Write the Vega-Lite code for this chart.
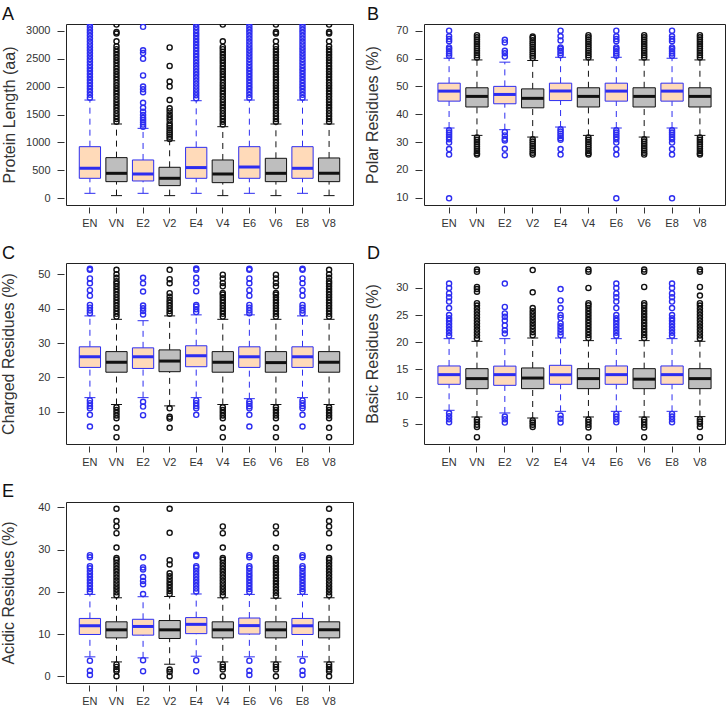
{
"$schema": "https://vega.github.io/schema/vega-lite/v6.json",
"padding": {"left": 0, "top": 5, "right": 0, "bottom": 0},
"background": "white",
"columns": 2,
"align": "each",
"bounds": "flush",
"spacing": {"row": 58, "column": 71},
"config": {
 "font": "Liberation Sans",
 "view": {"stroke": "#222", "strokeWidth": 1},
 "title": {"anchor": "start", "frame": "group", "fontSize": 18, "fontWeight": "normal", "color": "#111", "offset": 0.5},
 "axisY": {"domain": false, "grid": false, "tickSize": 7, "offset": 2, "labelPadding": 7, "labelOverlap": false, "labelFontSize": 11, "labelColor": "#333", "tickColor": "#333", "titleFontSize": 16, "titleFontWeight": "normal", "titleColor": "#333"},
 "axisX": {"domain": false, "grid": false, "tickSize": 6, "offset": 2, "labelPadding": 4, "labelOverlap": false, "labelAngle": 0, "labelFontSize": 11, "labelColor": "#333", "tickColor": "#333"}
},
"datasets": {
"bA": [
{"g":"EN","lo":89,"q1":358,"md":537,"q3":924,"hi":1759},
{"g":"VN","lo":48,"q1":298,"md":447,"q3":728,"hi":1330},
{"g":"E2","lo":89,"q1":310,"md":435,"q3":686,"hi":1252},
{"g":"V2","lo":48,"q1":227,"md":358,"q3":555,"hi":1030},
{"g":"E4","lo":89,"q1":358,"md":550,"q3":912,"hi":1747},
{"g":"V4","lo":48,"q1":280,"md":435,"q3":686,"hi":1282},
{"g":"E6","lo":89,"q1":358,"md":560,"q3":924,"hi":1759},
{"g":"V6","lo":48,"q1":298,"md":447,"q3":716,"hi":1330},
{"g":"E8","lo":89,"q1":358,"md":537,"q3":924,"hi":1759},
{"g":"V8","lo":48,"q1":298,"md":447,"q3":722,"hi":1330}
],
"bB": [
{"g":"EN","lo":35.05,"q1":44.7,"md":48.3,"q3":51.15,"hi":60.1},
{"g":"VN","lo":32.4,"q1":42.6,"md":46.4,"q3":49.5,"hi":59.5},
{"g":"E2","lo":34.45,"q1":43.75,"md":47.1,"q3":50.0,"hi":58.7},
{"g":"V2","lo":31.8,"q1":42.3,"md":45.7,"q3":49.1,"hi":59.3},
{"g":"E4","lo":35.4,"q1":44.9,"md":48.3,"q3":51.15,"hi":60.45},
{"g":"V4","lo":32.4,"q1":42.6,"md":46.4,"q3":49.5,"hi":59.5},
{"g":"E6","lo":35.05,"q1":44.7,"md":48.3,"q3":51.15,"hi":60.45},
{"g":"V6","lo":31.8,"q1":42.6,"md":46.4,"q3":49.5,"hi":59.5},
{"g":"E8","lo":35.05,"q1":44.7,"md":48.3,"q3":51.15,"hi":60.1},
{"g":"V8","lo":32.4,"q1":42.6,"md":46.4,"q3":49.5,"hi":59.5}
],
"bC": [
{"g":"EN","lo":14.1,"q1":22.9,"md":26.0,"q3":28.9,"hi":37.9},
{"g":"VN","lo":12.1,"q1":21.5,"md":24.4,"q3":27.5,"hi":36.9},
{"g":"E2","lo":14.1,"q1":22.6,"md":26.0,"q3":28.6,"hi":36.5},
{"g":"V2","lo":11.7,"q1":21.65,"md":24.75,"q3":28.0,"hi":37.9},
{"g":"E4","lo":14.1,"q1":23.1,"md":26.3,"q3":29.2,"hi":38.2},
{"g":"V4","lo":12.1,"q1":21.5,"md":24.4,"q3":27.5,"hi":36.9},
{"g":"E6","lo":13.8,"q1":22.9,"md":26.0,"q3":28.9,"hi":38.2},
{"g":"V6","lo":12.1,"q1":21.5,"md":24.3,"q3":27.5,"hi":36.9},
{"g":"E8","lo":14.1,"q1":22.9,"md":26.0,"q3":28.9,"hi":37.9},
{"g":"V8","lo":12.1,"q1":21.5,"md":24.4,"q3":27.5,"hi":36.9}
],
"bD": [
{"g":"EN","lo":7.46,"q1":12.25,"md":14.03,"q3":15.63,"hi":20.66},
{"g":"VN","lo":6.23,"q1":11.45,"md":13.3,"q3":15.13,"hi":20.17},
{"g":"E2","lo":6.97,"q1":12.06,"md":14.03,"q3":15.6,"hi":20.66},
{"g":"V2","lo":6.04,"q1":11.45,"md":13.4,"q3":15.26,"hi":20.78},
{"g":"E4","lo":7.27,"q1":12.25,"md":14.03,"q3":15.75,"hi":20.78},
{"g":"V4","lo":6.23,"q1":11.45,"md":13.3,"q3":15.13,"hi":20.3},
{"g":"E6","lo":7.27,"q1":12.25,"md":14.03,"q3":15.63,"hi":20.66},
{"g":"V6","lo":6.23,"q1":11.45,"md":13.2,"q3":15.13,"hi":20.3},
{"g":"E8","lo":7.27,"q1":12.25,"md":14.03,"q3":15.63,"hi":20.66},
{"g":"V8","lo":6.3,"q1":11.45,"md":13.3,"q3":15.13,"hi":20.17}
],
"bE": [
{"g":"EN","lo":4.6,"q1":9.9,"md":11.96,"q3":13.7,"hi":19.4},
{"g":"VN","lo":3.4,"q1":9.1,"md":11.0,"q3":12.9,"hi":18.6},
{"g":"E2","lo":4.36,"q1":9.74,"md":11.8,"q3":13.5,"hi":18.85},
{"g":"V2","lo":2.85,"q1":8.95,"md":11.0,"q3":13.2,"hi":18.9},
{"g":"E4","lo":4.75,"q1":10.1,"md":12.3,"q3":13.9,"hi":19.5},
{"g":"V4","lo":3.4,"q1":9.1,"md":11.0,"q3":12.9,"hi":18.6},
{"g":"E6","lo":4.6,"q1":10.0,"md":12.0,"q3":13.8,"hi":19.4},
{"g":"V6","lo":3.4,"q1":9.1,"md":11.0,"q3":12.9,"hi":18.5},
{"g":"E8","lo":4.6,"q1":9.9,"md":11.96,"q3":13.7,"hi":19.4},
{"g":"V8","lo":3.4,"q1":9.1,"md":11.0,"q3":12.9,"hi":18.6}
],
"oA": [
{"g":"EN","v":1800},{"g":"EN","v":1853},{"g":"EN","v":1906},{"g":"EN","v":1959},{"g":"EN","v":2012},{"g":"EN","v":2065},{"g":"EN","v":2118},{"g":"EN","v":2171},{"g":"EN","v":2224},{"g":"EN","v":2277},{"g":"EN","v":2330},{"g":"EN","v":2383},{"g":"EN","v":2436},{"g":"EN","v":2489},{"g":"EN","v":2542},{"g":"EN","v":2595},{"g":"EN","v":2648},{"g":"EN","v":2701},{"g":"EN","v":2754},{"g":"EN","v":2807},{"g":"EN","v":2860},{"g":"EN","v":2913},{"g":"EN","v":2966},{"g":"EN","v":3019},{"g":"EN","v":3072},{"g":"EN","v":3125},
{"g":"E4","v":1790},{"g":"E4","v":1843},{"g":"E4","v":1896},{"g":"E4","v":1949},{"g":"E4","v":2002},{"g":"E4","v":2055},{"g":"E4","v":2108},{"g":"E4","v":2161},{"g":"E4","v":2214},{"g":"E4","v":2267},{"g":"E4","v":2320},{"g":"E4","v":2373},{"g":"E4","v":2426},{"g":"E4","v":2479},{"g":"E4","v":2532},{"g":"E4","v":2585},{"g":"E4","v":2638},{"g":"E4","v":2691},{"g":"E4","v":2744},{"g":"E4","v":2797},{"g":"E4","v":2850},{"g":"E4","v":2903},{"g":"E4","v":2956},{"g":"E4","v":3009},{"g":"E4","v":3062},{"g":"E4","v":3115},
{"g":"E6","v":1800},{"g":"E6","v":1853},{"g":"E6","v":1906},{"g":"E6","v":1959},{"g":"E6","v":2012},{"g":"E6","v":2065},{"g":"E6","v":2118},{"g":"E6","v":2171},{"g":"E6","v":2224},{"g":"E6","v":2277},{"g":"E6","v":2330},{"g":"E6","v":2383},{"g":"E6","v":2436},{"g":"E6","v":2489},{"g":"E6","v":2542},{"g":"E6","v":2595},{"g":"E6","v":2648},{"g":"E6","v":2701},{"g":"E6","v":2754},{"g":"E6","v":2807},{"g":"E6","v":2860},{"g":"E6","v":2913},{"g":"E6","v":2966},{"g":"E6","v":3019},{"g":"E6","v":3072},{"g":"E6","v":3125},
{"g":"E8","v":1800},{"g":"E8","v":1853},{"g":"E8","v":1906},{"g":"E8","v":1959},{"g":"E8","v":2012},{"g":"E8","v":2065},{"g":"E8","v":2118},{"g":"E8","v":2171},{"g":"E8","v":2224},{"g":"E8","v":2277},{"g":"E8","v":2330},{"g":"E8","v":2383},{"g":"E8","v":2436},{"g":"E8","v":2489},{"g":"E8","v":2542},{"g":"E8","v":2595},{"g":"E8","v":2648},{"g":"E8","v":2701},{"g":"E8","v":2754},{"g":"E8","v":2807},{"g":"E8","v":2860},{"g":"E8","v":2913},{"g":"E8","v":2966},{"g":"E8","v":3019},{"g":"E8","v":3072},{"g":"E8","v":3125},
{"g":"VN","v":1370},{"g":"VN","v":1420},{"g":"VN","v":1470},{"g":"VN","v":1520},{"g":"VN","v":1570},{"g":"VN","v":1620},{"g":"VN","v":1670},{"g":"VN","v":1720},{"g":"VN","v":1770},{"g":"VN","v":1820},{"g":"VN","v":1870},{"g":"VN","v":1920},{"g":"VN","v":1970},{"g":"VN","v":2020},{"g":"VN","v":2070},{"g":"VN","v":2120},{"g":"VN","v":2170},{"g":"VN","v":2220},{"g":"VN","v":2270},{"g":"VN","v":2320},{"g":"VN","v":2370},{"g":"VN","v":2420},{"g":"VN","v":2470},{"g":"VN","v":2520},{"g":"VN","v":2570},{"g":"VN","v":2620},{"g":"VN","v":2670},{"g":"VN","v":2720},{"g":"VN","v":2810},{"g":"VN","v":2950},{"g":"VN","v":2975},{"g":"VN","v":3110},
{"g":"V6","v":1370},{"g":"V6","v":1420},{"g":"V6","v":1470},{"g":"V6","v":1520},{"g":"V6","v":1570},{"g":"V6","v":1620},{"g":"V6","v":1670},{"g":"V6","v":1720},{"g":"V6","v":1770},{"g":"V6","v":1820},{"g":"V6","v":1870},{"g":"V6","v":1920},{"g":"V6","v":1970},{"g":"V6","v":2020},{"g":"V6","v":2070},{"g":"V6","v":2120},{"g":"V6","v":2170},{"g":"V6","v":2220},{"g":"V6","v":2270},{"g":"V6","v":2320},{"g":"V6","v":2370},{"g":"V6","v":2420},{"g":"V6","v":2470},{"g":"V6","v":2520},{"g":"V6","v":2570},{"g":"V6","v":2620},{"g":"V6","v":2670},{"g":"V6","v":2720},{"g":"V6","v":2810},{"g":"V6","v":2950},{"g":"V6","v":2975},{"g":"V6","v":3110},
{"g":"V8","v":1370},{"g":"V8","v":1420},{"g":"V8","v":1470},{"g":"V8","v":1520},{"g":"V8","v":1570},{"g":"V8","v":1620},{"g":"V8","v":1670},{"g":"V8","v":1720},{"g":"V8","v":1770},{"g":"V8","v":1820},{"g":"V8","v":1870},{"g":"V8","v":1920},{"g":"V8","v":1970},{"g":"V8","v":2020},{"g":"V8","v":2070},{"g":"V8","v":2120},{"g":"V8","v":2170},{"g":"V8","v":2220},{"g":"V8","v":2270},{"g":"V8","v":2320},{"g":"V8","v":2370},{"g":"V8","v":2420},{"g":"V8","v":2470},{"g":"V8","v":2520},{"g":"V8","v":2570},{"g":"V8","v":2620},{"g":"V8","v":2670},{"g":"V8","v":2720},{"g":"V8","v":2810},{"g":"V8","v":2950},{"g":"V8","v":2975},{"g":"V8","v":3110},
{"g":"V4","v":1320},{"g":"V4","v":1370},{"g":"V4","v":1420},{"g":"V4","v":1470},{"g":"V4","v":1520},{"g":"V4","v":1570},{"g":"V4","v":1620},{"g":"V4","v":1670},{"g":"V4","v":1720},{"g":"V4","v":1770},{"g":"V4","v":1820},{"g":"V4","v":1870},{"g":"V4","v":1920},{"g":"V4","v":1970},{"g":"V4","v":2020},{"g":"V4","v":2070},{"g":"V4","v":2120},{"g":"V4","v":2170},{"g":"V4","v":2220},{"g":"V4","v":2270},{"g":"V4","v":2320},{"g":"V4","v":2370},{"g":"V4","v":2420},{"g":"V4","v":2470},{"g":"V4","v":2520},{"g":"V4","v":2570},{"g":"V4","v":2620},{"g":"V4","v":2670},{"g":"V4","v":2710},{"g":"V4","v":2810},{"g":"V4","v":3110},
{"g":"E2","v":1280},{"g":"E2","v":1320},{"g":"E2","v":1360},{"g":"E2","v":1400},{"g":"E2","v":1440},{"g":"E2","v":1490},{"g":"E2","v":1550},{"g":"E2","v":1620},{"g":"E2","v":1710},{"g":"E2","v":1900},{"g":"E2","v":1950},{"g":"E2","v":2000},{"g":"E2","v":2200},{"g":"E2","v":2500},{"g":"E2","v":2600},{"g":"E2","v":2650},{"g":"E2","v":3070},
{"g":"V2","v":1060},{"g":"V2","v":1100},{"g":"V2","v":1140},{"g":"V2","v":1180},{"g":"V2","v":1220},{"g":"V2","v":1260},{"g":"V2","v":1300},{"g":"V2","v":1340},{"g":"V2","v":1400},{"g":"V2","v":1450},{"g":"V2","v":1500},{"g":"V2","v":1560},{"g":"V2","v":1610},{"g":"V2","v":1760},{"g":"V2","v":2000},{"g":"V2","v":2090},{"g":"V2","v":2370},{"g":"V2","v":2700}
],
"oB": [
{"g":"EN","v":61.0},{"g":"EN","v":61.8},{"g":"EN","v":62.6},{"g":"EN","v":63.4},{"g":"EN","v":64.0},{"g":"EN","v":66.2},{"g":"EN","v":67.0},{"g":"EN","v":68.0},{"g":"EN","v":70.0},{"g":"EN","v":34.2},{"g":"EN","v":33.4},{"g":"EN","v":32.6},{"g":"EN","v":31.8},{"g":"EN","v":31.0},{"g":"EN","v":29.8},{"g":"EN","v":27.5},{"g":"EN","v":25.5},{"g":"EN","v":9.8},
{"g":"E6","v":61.0},{"g":"E6","v":61.8},{"g":"E6","v":62.6},{"g":"E6","v":63.4},{"g":"E6","v":64.0},{"g":"E6","v":66.2},{"g":"E6","v":67.0},{"g":"E6","v":68.0},{"g":"E6","v":70.0},{"g":"E6","v":34.2},{"g":"E6","v":33.4},{"g":"E6","v":32.6},{"g":"E6","v":31.8},{"g":"E6","v":31.0},{"g":"E6","v":29.8},{"g":"E6","v":27.5},{"g":"E6","v":25.5},{"g":"E6","v":9.8},
{"g":"E8","v":61.0},{"g":"E8","v":61.8},{"g":"E8","v":62.6},{"g":"E8","v":63.4},{"g":"E8","v":64.0},{"g":"E8","v":66.2},{"g":"E8","v":67.0},{"g":"E8","v":68.0},{"g":"E8","v":70.0},{"g":"E8","v":34.2},{"g":"E8","v":33.4},{"g":"E8","v":32.6},{"g":"E8","v":31.8},{"g":"E8","v":31.0},{"g":"E8","v":29.8},{"g":"E8","v":27.5},{"g":"E8","v":25.5},{"g":"E8","v":9.8},
{"g":"E4","v":61.2},{"g":"E4","v":62.0},{"g":"E4","v":62.8},{"g":"E4","v":63.6},{"g":"E4","v":64.0},{"g":"E4","v":66.5},{"g":"E4","v":68.0},{"g":"E4","v":70.0},{"g":"E4","v":34.6},{"g":"E4","v":33.8},{"g":"E4","v":33.0},{"g":"E4","v":32.2},{"g":"E4","v":31.4},{"g":"E4","v":30.8},{"g":"E4","v":27.5},{"g":"E4","v":25.5},
{"g":"VN","v":60.4},{"g":"VN","v":61.2},{"g":"VN","v":62.0},{"g":"VN","v":62.8},{"g":"VN","v":63.6},{"g":"VN","v":64.4},{"g":"VN","v":65.2},{"g":"VN","v":66.0},{"g":"VN","v":66.8},{"g":"VN","v":67.6},{"g":"VN","v":68.4},{"g":"VN","v":31.6},{"g":"VN","v":30.8},{"g":"VN","v":30.0},{"g":"VN","v":29.2},{"g":"VN","v":28.4},{"g":"VN","v":27.6},{"g":"VN","v":26.8},{"g":"VN","v":26.0},{"g":"VN","v":25.5},
{"g":"V4","v":60.4},{"g":"V4","v":61.2},{"g":"V4","v":62.0},{"g":"V4","v":62.8},{"g":"V4","v":63.6},{"g":"V4","v":64.4},{"g":"V4","v":65.2},{"g":"V4","v":66.0},{"g":"V4","v":66.8},{"g":"V4","v":67.6},{"g":"V4","v":68.4},{"g":"V4","v":31.6},{"g":"V4","v":30.8},{"g":"V4","v":30.0},{"g":"V4","v":29.2},{"g":"V4","v":28.4},{"g":"V4","v":27.6},{"g":"V4","v":26.8},{"g":"V4","v":26.0},{"g":"V4","v":25.5},
{"g":"V6","v":60.4},{"g":"V6","v":61.2},{"g":"V6","v":62.0},{"g":"V6","v":62.8},{"g":"V6","v":63.6},{"g":"V6","v":64.4},{"g":"V6","v":65.2},{"g":"V6","v":66.0},{"g":"V6","v":66.8},{"g":"V6","v":67.6},{"g":"V6","v":68.4},{"g":"V6","v":31.0},{"g":"V6","v":30.2},{"g":"V6","v":29.4},{"g":"V6","v":28.6},{"g":"V6","v":27.8},{"g":"V6","v":27.0},{"g":"V6","v":26.2},{"g":"V6","v":25.5},
{"g":"V8","v":60.4},{"g":"V8","v":61.2},{"g":"V8","v":62.0},{"g":"V8","v":62.8},{"g":"V8","v":63.6},{"g":"V8","v":64.4},{"g":"V8","v":65.2},{"g":"V8","v":66.0},{"g":"V8","v":66.8},{"g":"V8","v":67.6},{"g":"V8","v":68.4},{"g":"V8","v":31.6},{"g":"V8","v":30.8},{"g":"V8","v":30.0},{"g":"V8","v":29.2},{"g":"V8","v":28.4},{"g":"V8","v":27.6},{"g":"V8","v":26.8},{"g":"V8","v":26.0},{"g":"V8","v":25.5},
{"g":"E2","v":60.7},{"g":"E2","v":61.9},{"g":"E2","v":62.8},{"g":"E2","v":65.8},{"g":"E2","v":66.7},{"g":"E2","v":33.6},{"g":"E2","v":32.4},{"g":"E2","v":31.2},{"g":"E2","v":30.6},{"g":"E2","v":27.6},{"g":"E2","v":25.3},
{"g":"V2","v":60.2},{"g":"V2","v":61.0},{"g":"V2","v":61.8},{"g":"V2","v":62.6},{"g":"V2","v":63.4},{"g":"V2","v":64.2},{"g":"V2","v":65.0},{"g":"V2","v":65.8},{"g":"V2","v":66.6},{"g":"V2","v":67.4},{"g":"V2","v":67.9},{"g":"V2","v":31.0},{"g":"V2","v":30.2},{"g":"V2","v":29.4},{"g":"V2","v":28.6},{"g":"V2","v":27.8},{"g":"V2","v":27.0},{"g":"V2","v":26.2},{"g":"V2","v":25.5}
],
"oC": [
{"g":"EN","v":38.7},{"g":"EN","v":39.5},{"g":"EN","v":40.3},{"g":"EN","v":41.1},{"g":"EN","v":43.8},{"g":"EN","v":45.4},{"g":"EN","v":47.4},{"g":"EN","v":48.8},{"g":"EN","v":51.3},{"g":"EN","v":51.6},{"g":"EN","v":13.3},{"g":"EN","v":12.5},{"g":"EN","v":11.7},{"g":"EN","v":11.0},{"g":"EN","v":9.1},{"g":"EN","v":5.7},
{"g":"E6","v":38.7},{"g":"E6","v":39.5},{"g":"E6","v":40.3},{"g":"E6","v":41.1},{"g":"E6","v":43.8},{"g":"E6","v":45.4},{"g":"E6","v":47.4},{"g":"E6","v":48.8},{"g":"E6","v":51.3},{"g":"E6","v":51.6},{"g":"E6","v":13.0},{"g":"E6","v":12.3},{"g":"E6","v":11.6},{"g":"E6","v":11.0},{"g":"E6","v":9.1},{"g":"E6","v":5.7},
{"g":"E8","v":38.7},{"g":"E8","v":39.5},{"g":"E8","v":40.3},{"g":"E8","v":41.1},{"g":"E8","v":43.8},{"g":"E8","v":45.4},{"g":"E8","v":47.4},{"g":"E8","v":48.8},{"g":"E8","v":51.3},{"g":"E8","v":51.6},{"g":"E8","v":13.3},{"g":"E8","v":12.5},{"g":"E8","v":11.7},{"g":"E8","v":11.0},{"g":"E8","v":9.1},{"g":"E8","v":5.7},
{"g":"E4","v":39.0},{"g":"E4","v":39.8},{"g":"E4","v":40.6},{"g":"E4","v":41.1},{"g":"E4","v":45.1},{"g":"E4","v":47.4},{"g":"E4","v":49.0},{"g":"E4","v":51.3},{"g":"E4","v":51.7},{"g":"E4","v":13.3},{"g":"E4","v":12.5},{"g":"E4","v":11.7},{"g":"E4","v":11.0},{"g":"E4","v":9.1},
{"g":"VN","v":37.7},{"g":"VN","v":38.5},{"g":"VN","v":39.3},{"g":"VN","v":40.1},{"g":"VN","v":40.9},{"g":"VN","v":41.7},{"g":"VN","v":42.5},{"g":"VN","v":43.3},{"g":"VN","v":44.1},{"g":"VN","v":44.9},{"g":"VN","v":45.7},{"g":"VN","v":46.5},{"g":"VN","v":47.3},{"g":"VN","v":48.0},{"g":"VN","v":49.0},{"g":"VN","v":50.0},{"g":"VN","v":51.3},{"g":"VN","v":11.3},{"g":"VN","v":10.5},{"g":"VN","v":9.7},{"g":"VN","v":8.9},{"g":"VN","v":8.1},{"g":"VN","v":5.3},{"g":"VN","v":2.6},
{"g":"V8","v":37.7},{"g":"V8","v":38.5},{"g":"V8","v":39.3},{"g":"V8","v":40.1},{"g":"V8","v":40.9},{"g":"V8","v":41.7},{"g":"V8","v":42.5},{"g":"V8","v":43.3},{"g":"V8","v":44.1},{"g":"V8","v":44.9},{"g":"V8","v":45.7},{"g":"V8","v":46.5},{"g":"V8","v":47.3},{"g":"V8","v":48.0},{"g":"V8","v":49.0},{"g":"V8","v":50.0},{"g":"V8","v":51.3},{"g":"V8","v":11.3},{"g":"V8","v":10.5},{"g":"V8","v":9.7},{"g":"V8","v":8.9},{"g":"V8","v":8.1},{"g":"V8","v":5.3},{"g":"V8","v":2.6},
{"g":"V4","v":37.7},{"g":"V4","v":38.5},{"g":"V4","v":39.3},{"g":"V4","v":40.1},{"g":"V4","v":40.9},{"g":"V4","v":41.7},{"g":"V4","v":42.5},{"g":"V4","v":43.3},{"g":"V4","v":44.1},{"g":"V4","v":44.6},{"g":"V4","v":46.5},{"g":"V4","v":47.5},{"g":"V4","v":48.8},{"g":"V4","v":49.9},{"g":"V4","v":11.3},{"g":"V4","v":10.5},{"g":"V4","v":9.7},{"g":"V4","v":8.9},{"g":"V4","v":8.1},{"g":"V4","v":5.3},{"g":"V4","v":2.6},
{"g":"V6","v":37.7},{"g":"V6","v":38.5},{"g":"V6","v":39.3},{"g":"V6","v":40.1},{"g":"V6","v":40.9},{"g":"V6","v":41.7},{"g":"V6","v":42.5},{"g":"V6","v":43.3},{"g":"V6","v":44.1},{"g":"V6","v":44.6},{"g":"V6","v":46.5},{"g":"V6","v":47.5},{"g":"V6","v":48.8},{"g":"V6","v":49.9},{"g":"V6","v":11.3},{"g":"V6","v":10.5},{"g":"V6","v":9.7},{"g":"V6","v":8.9},{"g":"V6","v":8.1},{"g":"V6","v":5.3},{"g":"V6","v":2.6},
{"g":"E2","v":38.3},{"g":"E2","v":39.3},{"g":"E2","v":40.1},{"g":"E2","v":40.9},{"g":"E2","v":45.0},{"g":"E2","v":47.4},{"g":"E2","v":49.0},{"g":"E2","v":12.9},{"g":"E2","v":11.5},{"g":"E2","v":9.0},
{"g":"V2","v":38.5},{"g":"V2","v":39.3},{"g":"V2","v":40.1},{"g":"V2","v":40.9},{"g":"V2","v":41.7},{"g":"V2","v":42.5},{"g":"V2","v":43.5},{"g":"V2","v":44.5},{"g":"V2","v":47.4},{"g":"V2","v":48.6},{"g":"V2","v":51.3},{"g":"V2","v":11.0},{"g":"V2","v":8.5},{"g":"V2","v":8.0},{"g":"V2","v":5.3}
],
"oD": [
{"g":"EN","v":21.2},{"g":"EN","v":21.75},{"g":"EN","v":22.3},{"g":"EN","v":22.85},{"g":"EN","v":23.4},{"g":"EN","v":23.95},{"g":"EN","v":24.4},{"g":"EN","v":25.0},{"g":"EN","v":26.3},{"g":"EN","v":27.5},{"g":"EN","v":28.3},{"g":"EN","v":29.0},{"g":"EN","v":30.0},{"g":"EN","v":30.8},{"g":"EN","v":6.9},{"g":"EN","v":6.35},{"g":"EN","v":5.8},{"g":"EN","v":5.25},
{"g":"E6","v":21.2},{"g":"E6","v":21.75},{"g":"E6","v":22.3},{"g":"E6","v":22.85},{"g":"E6","v":23.4},{"g":"E6","v":23.95},{"g":"E6","v":24.4},{"g":"E6","v":25.0},{"g":"E6","v":26.3},{"g":"E6","v":27.5},{"g":"E6","v":28.3},{"g":"E6","v":29.0},{"g":"E6","v":30.0},{"g":"E6","v":30.8},{"g":"E6","v":6.8},{"g":"E6","v":6.3},{"g":"E6","v":5.8},{"g":"E6","v":5.25},
{"g":"E8","v":21.2},{"g":"E8","v":21.75},{"g":"E8","v":22.3},{"g":"E8","v":22.85},{"g":"E8","v":23.4},{"g":"E8","v":23.95},{"g":"E8","v":24.4},{"g":"E8","v":25.0},{"g":"E8","v":26.3},{"g":"E8","v":27.5},{"g":"E8","v":28.3},{"g":"E8","v":29.0},{"g":"E8","v":30.0},{"g":"E8","v":30.8},{"g":"E8","v":6.8},{"g":"E8","v":6.3},{"g":"E8","v":5.8},{"g":"E8","v":5.25},
{"g":"E4","v":21.3},{"g":"E4","v":21.85},{"g":"E4","v":22.4},{"g":"E4","v":22.95},{"g":"E4","v":23.5},{"g":"E4","v":24.5},{"g":"E4","v":25.0},{"g":"E4","v":26.3},{"g":"E4","v":27.7},{"g":"E4","v":29.8},{"g":"E4","v":6.5},{"g":"E4","v":5.9},{"g":"E4","v":5.2},
{"g":"VN","v":20.7},{"g":"VN","v":21.25},{"g":"VN","v":21.8},{"g":"VN","v":22.35},{"g":"VN","v":22.9},{"g":"VN","v":23.45},{"g":"VN","v":24.0},{"g":"VN","v":24.55},{"g":"VN","v":25.1},{"g":"VN","v":25.65},{"g":"VN","v":26.2},{"g":"VN","v":26.75},{"g":"VN","v":27.2},{"g":"VN","v":29.3},{"g":"VN","v":29.8},{"g":"VN","v":30.2},{"g":"VN","v":33.0},{"g":"VN","v":33.4},{"g":"VN","v":5.75},{"g":"VN","v":5.3},{"g":"VN","v":4.8},{"g":"VN","v":4.4},{"g":"VN","v":2.5},
{"g":"V4","v":20.8},{"g":"V4","v":21.35},{"g":"V4","v":21.9},{"g":"V4","v":22.45},{"g":"V4","v":23.0},{"g":"V4","v":23.55},{"g":"V4","v":24.1},{"g":"V4","v":24.65},{"g":"V4","v":25.2},{"g":"V4","v":25.75},{"g":"V4","v":26.3},{"g":"V4","v":26.8},{"g":"V4","v":27.2},{"g":"V4","v":30.0},{"g":"V4","v":33.0},{"g":"V4","v":33.4},{"g":"V4","v":5.75},{"g":"V4","v":5.3},{"g":"V4","v":4.8},{"g":"V4","v":4.3},{"g":"V4","v":2.5},
{"g":"V6","v":20.8},{"g":"V6","v":21.35},{"g":"V6","v":21.9},{"g":"V6","v":22.45},{"g":"V6","v":23.0},{"g":"V6","v":23.55},{"g":"V6","v":24.1},{"g":"V6","v":24.65},{"g":"V6","v":25.2},{"g":"V6","v":25.75},{"g":"V6","v":26.3},{"g":"V6","v":26.8},{"g":"V6","v":27.2},{"g":"V6","v":30.2},{"g":"V6","v":33.0},{"g":"V6","v":33.4},{"g":"V6","v":5.75},{"g":"V6","v":5.3},{"g":"V6","v":4.8},{"g":"V6","v":4.3},{"g":"V6","v":2.5},
{"g":"V8","v":20.7},{"g":"V8","v":21.25},{"g":"V8","v":21.8},{"g":"V8","v":22.35},{"g":"V8","v":22.9},{"g":"V8","v":23.45},{"g":"V8","v":24.0},{"g":"V8","v":24.55},{"g":"V8","v":25.1},{"g":"V8","v":25.65},{"g":"V8","v":26.2},{"g":"V8","v":26.75},{"g":"V8","v":27.2},{"g":"V8","v":28.6},{"g":"V8","v":30.2},{"g":"V8","v":33.0},{"g":"V8","v":33.4},{"g":"V8","v":5.8},{"g":"V8","v":5.4},{"g":"V8","v":5.0},{"g":"V8","v":4.4},{"g":"V8","v":2.5},
{"g":"E2","v":21.6},{"g":"E2","v":22.2},{"g":"E2","v":23.1},{"g":"E2","v":24.0},{"g":"E2","v":24.7},{"g":"E2","v":25.3},{"g":"E2","v":26.5},{"g":"E2","v":30.8},{"g":"E2","v":6.3},{"g":"E2","v":5.8},{"g":"E2","v":5.2},
{"g":"V2","v":21.3},{"g":"V2","v":21.85},{"g":"V2","v":22.4},{"g":"V2","v":22.95},{"g":"V2","v":23.5},{"g":"V2","v":24.05},{"g":"V2","v":24.6},{"g":"V2","v":25.15},{"g":"V2","v":25.7},{"g":"V2","v":26.3},{"g":"V2","v":29.2},{"g":"V2","v":33.3},{"g":"V2","v":5.6},{"g":"V2","v":5.2},{"g":"V2","v":4.8},{"g":"V2","v":4.4}
],
"oE": [
{"g":"EN","v":20.0},{"g":"EN","v":20.7},{"g":"EN","v":21.4},{"g":"EN","v":22.1},{"g":"EN","v":22.8},{"g":"EN","v":23.5},{"g":"EN","v":24.2},{"g":"EN","v":24.9},{"g":"EN","v":25.6},{"g":"EN","v":26.1},{"g":"EN","v":28.2},{"g":"EN","v":28.7},{"g":"EN","v":3.7},{"g":"EN","v":1.3},{"g":"EN","v":0.3},
{"g":"E6","v":20.0},{"g":"E6","v":20.7},{"g":"E6","v":21.4},{"g":"E6","v":22.1},{"g":"E6","v":22.8},{"g":"E6","v":23.5},{"g":"E6","v":24.2},{"g":"E6","v":24.9},{"g":"E6","v":25.6},{"g":"E6","v":26.1},{"g":"E6","v":28.2},{"g":"E6","v":28.7},{"g":"E6","v":3.7},{"g":"E6","v":1.3},{"g":"E6","v":0.3},
{"g":"E8","v":20.0},{"g":"E8","v":20.7},{"g":"E8","v":21.4},{"g":"E8","v":22.1},{"g":"E8","v":22.8},{"g":"E8","v":23.5},{"g":"E8","v":24.2},{"g":"E8","v":24.9},{"g":"E8","v":25.6},{"g":"E8","v":26.1},{"g":"E8","v":28.2},{"g":"E8","v":28.7},{"g":"E8","v":3.7},{"g":"E8","v":1.3},{"g":"E8","v":0.3},
{"g":"E4","v":20.1},{"g":"E4","v":20.8},{"g":"E4","v":21.5},{"g":"E4","v":22.2},{"g":"E4","v":22.9},{"g":"E4","v":23.6},{"g":"E4","v":24.3},{"g":"E4","v":25.0},{"g":"E4","v":25.7},{"g":"E4","v":26.1},{"g":"E4","v":28.5},{"g":"E4","v":28.8},{"g":"E4","v":3.8},{"g":"E4","v":1.2},
{"g":"VN","v":19.2},{"g":"VN","v":19.9},{"g":"VN","v":20.6},{"g":"VN","v":21.3},{"g":"VN","v":22.0},{"g":"VN","v":22.7},{"g":"VN","v":23.4},{"g":"VN","v":24.1},{"g":"VN","v":24.8},{"g":"VN","v":25.5},{"g":"VN","v":26.2},{"g":"VN","v":26.9},{"g":"VN","v":27.6},{"g":"VN","v":28.0},{"g":"VN","v":30.5},{"g":"VN","v":33.9},{"g":"VN","v":35.5},{"g":"VN","v":36.8},{"g":"VN","v":39.7},{"g":"VN","v":2.8},{"g":"VN","v":2.2},{"g":"VN","v":1.6},{"g":"VN","v":1.2},{"g":"VN","v":0.0},
{"g":"V8","v":19.2},{"g":"V8","v":19.9},{"g":"V8","v":20.6},{"g":"V8","v":21.3},{"g":"V8","v":22.0},{"g":"V8","v":22.7},{"g":"V8","v":23.4},{"g":"V8","v":24.1},{"g":"V8","v":24.8},{"g":"V8","v":25.5},{"g":"V8","v":26.2},{"g":"V8","v":26.9},{"g":"V8","v":27.6},{"g":"V8","v":28.0},{"g":"V8","v":30.5},{"g":"V8","v":33.9},{"g":"V8","v":35.5},{"g":"V8","v":36.8},{"g":"V8","v":39.7},{"g":"V8","v":2.8},{"g":"V8","v":2.2},{"g":"V8","v":1.6},{"g":"V8","v":1.2},{"g":"V8","v":0.0},
{"g":"V4","v":19.2},{"g":"V4","v":19.9},{"g":"V4","v":20.6},{"g":"V4","v":21.3},{"g":"V4","v":22.0},{"g":"V4","v":22.7},{"g":"V4","v":23.4},{"g":"V4","v":24.1},{"g":"V4","v":24.8},{"g":"V4","v":25.5},{"g":"V4","v":26.2},{"g":"V4","v":26.9},{"g":"V4","v":27.6},{"g":"V4","v":28.0},{"g":"V4","v":30.5},{"g":"V4","v":33.9},{"g":"V4","v":35.5},{"g":"V4","v":2.8},{"g":"V4","v":2.2},{"g":"V4","v":1.6},{"g":"V4","v":0.0},
{"g":"V6","v":19.1},{"g":"V6","v":19.8},{"g":"V6","v":20.5},{"g":"V6","v":21.2},{"g":"V6","v":21.9},{"g":"V6","v":22.6},{"g":"V6","v":23.3},{"g":"V6","v":24.0},{"g":"V6","v":24.7},{"g":"V6","v":25.4},{"g":"V6","v":26.1},{"g":"V6","v":26.8},{"g":"V6","v":27.5},{"g":"V6","v":28.0},{"g":"V6","v":30.5},{"g":"V6","v":33.9},{"g":"V6","v":35.5},{"g":"V6","v":2.8},{"g":"V6","v":2.2},{"g":"V6","v":1.6},{"g":"V6","v":0.0},
{"g":"E2","v":19.5},{"g":"E2","v":21.8},{"g":"E2","v":22.6},{"g":"E2","v":23.5},{"g":"E2","v":25.3},{"g":"E2","v":25.8},{"g":"E2","v":28.2},{"g":"E2","v":3.8},{"g":"E2","v":1.2},
{"g":"V2","v":19.5},{"g":"V2","v":20.2},{"g":"V2","v":20.9},{"g":"V2","v":21.6},{"g":"V2","v":22.3},{"g":"V2","v":23.0},{"g":"V2","v":23.7},{"g":"V2","v":24.4},{"g":"V2","v":26.5},{"g":"V2","v":27.5},{"g":"V2","v":34.0},{"g":"V2","v":39.7},{"g":"V2","v":1.6},{"g":"V2","v":1.0},{"g":"V2","v":0.0}
]
},
"concat": [
{
 "width": 287, "height": 181,
 "title": {"text": "A", "dx": -64},
 "data": {"name": "bA"},
 "encoding": {"x": {"field": "g", "type": "nominal", "title": null, "scale": {"domain": ["EN","VN","E2","V2","E4","V4","E6","V6","E8","V8"], "paddingInner": 0, "paddingOuter": 0.4}}},
 "layer": [
  {"mark": {"type": "rule", "strokeDash": [6, 5], "strokeWidth": 1}, "encoding": {"y": {"field": "q3", "type": "quantitative", "title": "Protein Length (aa)", "scale": {"domain": [-120, 3120], "nice": false, "zero": false}, "axis": {"values": [0,500,1000,1500,2000,2500,3000], "format": "d", "labelOverlap": false, "titlePadding": 8.5}}, "y2": {"field": "hi"}, "color": {"field": "g", "type": "nominal", "scale": {"domain": ["EN","VN","E2","V2","E4","V4","E6","V6","E8","V8"], "range": ["#2d2df0","#111111","#2d2df0","#111111","#2d2df0","#111111","#2d2df0","#111111","#2d2df0","#111111"]}, "legend": null}}},
  {"mark": {"type": "rule", "strokeDash": [6, 5], "strokeWidth": 1}, "encoding": {"y": {"field": "lo", "type": "quantitative", "title": "Protein Length (aa)", "axis": {"values": [0,500,1000,1500,2000,2500,3000], "format": "d", "labelOverlap": false, "titlePadding": 8.5}}, "y2": {"field": "q1"}, "color": {"field": "g", "type": "nominal", "legend": null}}},
  {"mark": {"type": "tick", "size": 11, "thickness": 1, "opacity": 1}, "encoding": {"y": {"field": "hi", "type": "quantitative", "title": "Protein Length (aa)", "axis": {"values": [0,500,1000,1500,2000,2500,3000], "format": "d", "labelOverlap": false, "titlePadding": 8.5}}, "color": {"field": "g", "type": "nominal", "legend": null}}},
  {"mark": {"type": "tick", "size": 11, "thickness": 1, "opacity": 1}, "encoding": {"y": {"field": "lo", "type": "quantitative", "title": "Protein Length (aa)", "axis": {"values": [0,500,1000,1500,2000,2500,3000], "format": "d", "labelOverlap": false, "titlePadding": 8.5}}, "color": {"field": "g", "type": "nominal", "legend": null}}},
  {"mark": {"type": "bar", "width": {"band": 0.8}, "strokeWidth": 1}, "encoding": {"y": {"field": "q1", "type": "quantitative", "title": "Protein Length (aa)", "axis": {"values": [0,500,1000,1500,2000,2500,3000], "format": "d", "labelOverlap": false, "titlePadding": 8.5}}, "y2": {"field": "q3"}, "fill": {"field": "g", "type": "nominal", "scale": {"domain": ["EN","VN","E2","V2","E4","V4","E6","V6","E8","V8"], "range": ["#ffdab9","#bebebe","#ffdab9","#bebebe","#ffdab9","#bebebe","#ffdab9","#bebebe","#ffdab9","#bebebe"]}, "legend": null}, "stroke": {"field": "g", "type": "nominal", "scale": {"domain": ["EN","VN","E2","V2","E4","V4","E6","V6","E8","V8"], "range": ["#2d2df0","#111111","#2d2df0","#111111","#2d2df0","#111111","#2d2df0","#111111","#2d2df0","#111111"]}, "legend": null}}},
  {"mark": {"type": "tick", "size": 21, "thickness": 3, "opacity": 1}, "encoding": {"y": {"field": "md", "type": "quantitative", "title": "Protein Length (aa)", "axis": {"values": [0,500,1000,1500,2000,2500,3000], "format": "d", "labelOverlap": false, "titlePadding": 8.5}}, "color": {"field": "g", "type": "nominal", "legend": null}}},
  {"data": {"name": "oA"}, "mark": {"type": "point", "shape": "circle", "filled": false, "size": 26, "strokeWidth": 1.4, "opacity": 1, "clip": true}, "encoding": {"y": {"field": "v", "type": "quantitative", "title": "Protein Length (aa)", "axis": {"values": [0,500,1000,1500,2000,2500,3000], "format": "d", "labelOverlap": false, "titlePadding": 8.5}}, "color": {"field": "g", "type": "nominal", "legend": null}}}
 ]
},
{
 "width": 301, "height": 181,
 "title": {"text": "B", "dx": -57},
 "data": {"name": "bB"},
 "encoding": {"x": {"field": "g", "type": "nominal", "title": null, "scale": {"domain": ["EN","VN","E2","V2","E4","V4","E6","V6","E8","V8"], "paddingInner": 0, "paddingOuter": 0.4}}},
 "layer": [
  {"mark": {"type": "rule", "strokeDash": [6, 5], "strokeWidth": 1}, "encoding": {"y": {"field": "q3", "type": "quantitative", "title": "Polar Residues (%)", "scale": {"domain": [7.4, 72.4], "nice": false, "zero": false}, "axis": {"values": [10,20,30,40,50,60,70], "labelOverlap": false, "titlePadding": 15}}, "y2": {"field": "hi"}, "color": {"field": "g", "type": "nominal", "scale": {"domain": ["EN","VN","E2","V2","E4","V4","E6","V6","E8","V8"], "range": ["#2d2df0","#111111","#2d2df0","#111111","#2d2df0","#111111","#2d2df0","#111111","#2d2df0","#111111"]}, "legend": null}}},
  {"mark": {"type": "rule", "strokeDash": [6, 5], "strokeWidth": 1}, "encoding": {"y": {"field": "lo", "type": "quantitative", "title": "Polar Residues (%)", "axis": {"values": [10,20,30,40,50,60,70], "labelOverlap": false, "titlePadding": 15}}, "y2": {"field": "q1"}, "color": {"field": "g", "type": "nominal", "legend": null}}},
  {"mark": {"type": "tick", "size": 11, "thickness": 1, "opacity": 1}, "encoding": {"y": {"field": "hi", "type": "quantitative", "title": "Polar Residues (%)", "axis": {"values": [10,20,30,40,50,60,70], "labelOverlap": false, "titlePadding": 15}}, "color": {"field": "g", "type": "nominal", "legend": null}}},
  {"mark": {"type": "tick", "size": 11, "thickness": 1, "opacity": 1}, "encoding": {"y": {"field": "lo", "type": "quantitative", "title": "Polar Residues (%)", "axis": {"values": [10,20,30,40,50,60,70], "labelOverlap": false, "titlePadding": 15}}, "color": {"field": "g", "type": "nominal", "legend": null}}},
  {"mark": {"type": "bar", "width": {"band": 0.8}, "strokeWidth": 1}, "encoding": {"y": {"field": "q1", "type": "quantitative", "title": "Polar Residues (%)", "axis": {"values": [10,20,30,40,50,60,70], "labelOverlap": false, "titlePadding": 15}}, "y2": {"field": "q3"}, "fill": {"field": "g", "type": "nominal", "scale": {"domain": ["EN","VN","E2","V2","E4","V4","E6","V6","E8","V8"], "range": ["#ffdab9","#bebebe","#ffdab9","#bebebe","#ffdab9","#bebebe","#ffdab9","#bebebe","#ffdab9","#bebebe"]}, "legend": null}, "stroke": {"field": "g", "type": "nominal", "scale": {"domain": ["EN","VN","E2","V2","E4","V4","E6","V6","E8","V8"], "range": ["#2d2df0","#111111","#2d2df0","#111111","#2d2df0","#111111","#2d2df0","#111111","#2d2df0","#111111"]}, "legend": null}}},
  {"mark": {"type": "tick", "size": 22, "thickness": 3, "opacity": 1}, "encoding": {"y": {"field": "md", "type": "quantitative", "title": "Polar Residues (%)", "axis": {"values": [10,20,30,40,50,60,70], "labelOverlap": false, "titlePadding": 15}}, "color": {"field": "g", "type": "nominal", "legend": null}}},
  {"data": {"name": "oB"}, "mark": {"type": "point", "shape": "circle", "filled": false, "size": 26, "strokeWidth": 1.4, "opacity": 1, "clip": true}, "encoding": {"y": {"field": "v", "type": "quantitative", "title": "Polar Residues (%)", "axis": {"values": [10,20,30,40,50,60,70], "labelOverlap": false, "titlePadding": 15}}, "color": {"field": "g", "type": "nominal", "legend": null}}}
 ]
},
{
 "width": 287, "height": 181,
 "title": {"text": "C", "dx": -64},
 "data": {"name": "bC"},
 "encoding": {"x": {"field": "g", "type": "nominal", "title": null, "scale": {"domain": ["EN","VN","E2","V2","E4","V4","E6","V6","E8","V8"], "paddingInner": 0, "paddingOuter": 0.4}}},
 "layer": [
  {"mark": {"type": "rule", "strokeDash": [6, 5], "strokeWidth": 1}, "encoding": {"y": {"field": "q3", "type": "quantitative", "title": "Charged Residues (%)", "scale": {"domain": [0.6, 53.3], "nice": false, "zero": false}, "axis": {"values": [10,20,30,40,50], "labelOverlap": false, "titlePadding": 21}}, "y2": {"field": "hi"}, "color": {"field": "g", "type": "nominal", "scale": {"domain": ["EN","VN","E2","V2","E4","V4","E6","V6","E8","V8"], "range": ["#2d2df0","#111111","#2d2df0","#111111","#2d2df0","#111111","#2d2df0","#111111","#2d2df0","#111111"]}, "legend": null}}},
  {"mark": {"type": "rule", "strokeDash": [6, 5], "strokeWidth": 1}, "encoding": {"y": {"field": "lo", "type": "quantitative", "title": "Charged Residues (%)", "axis": {"values": [10,20,30,40,50], "labelOverlap": false, "titlePadding": 21}}, "y2": {"field": "q1"}, "color": {"field": "g", "type": "nominal", "legend": null}}},
  {"mark": {"type": "tick", "size": 11, "thickness": 1, "opacity": 1}, "encoding": {"y": {"field": "hi", "type": "quantitative", "title": "Charged Residues (%)", "axis": {"values": [10,20,30,40,50], "labelOverlap": false, "titlePadding": 21}}, "color": {"field": "g", "type": "nominal", "legend": null}}},
  {"mark": {"type": "tick", "size": 11, "thickness": 1, "opacity": 1}, "encoding": {"y": {"field": "lo", "type": "quantitative", "title": "Charged Residues (%)", "axis": {"values": [10,20,30,40,50], "labelOverlap": false, "titlePadding": 21}}, "color": {"field": "g", "type": "nominal", "legend": null}}},
  {"mark": {"type": "bar", "width": {"band": 0.8}, "strokeWidth": 1}, "encoding": {"y": {"field": "q1", "type": "quantitative", "title": "Charged Residues (%)", "axis": {"values": [10,20,30,40,50], "labelOverlap": false, "titlePadding": 21}}, "y2": {"field": "q3"}, "fill": {"field": "g", "type": "nominal", "scale": {"domain": ["EN","VN","E2","V2","E4","V4","E6","V6","E8","V8"], "range": ["#ffdab9","#bebebe","#ffdab9","#bebebe","#ffdab9","#bebebe","#ffdab9","#bebebe","#ffdab9","#bebebe"]}, "legend": null}, "stroke": {"field": "g", "type": "nominal", "scale": {"domain": ["EN","VN","E2","V2","E4","V4","E6","V6","E8","V8"], "range": ["#2d2df0","#111111","#2d2df0","#111111","#2d2df0","#111111","#2d2df0","#111111","#2d2df0","#111111"]}, "legend": null}}},
  {"mark": {"type": "tick", "size": 21, "thickness": 3, "opacity": 1}, "encoding": {"y": {"field": "md", "type": "quantitative", "title": "Charged Residues (%)", "axis": {"values": [10,20,30,40,50], "labelOverlap": false, "titlePadding": 21}}, "color": {"field": "g", "type": "nominal", "legend": null}}},
  {"data": {"name": "oC"}, "mark": {"type": "point", "shape": "circle", "filled": false, "size": 26, "strokeWidth": 1.4, "opacity": 1, "clip": true}, "encoding": {"y": {"field": "v", "type": "quantitative", "title": "Charged Residues (%)", "axis": {"values": [10,20,30,40,50], "labelOverlap": false, "titlePadding": 21}}, "color": {"field": "g", "type": "nominal", "legend": null}}}
 ]
},
{
 "width": 301, "height": 181,
 "title": {"text": "D", "dx": -57},
 "data": {"name": "bD"},
 "encoding": {"x": {"field": "g", "type": "nominal", "title": null, "scale": {"domain": ["EN","VN","E2","V2","E4","V4","E6","V6","E8","V8"], "paddingInner": 0, "paddingOuter": 0.4}}},
 "layer": [
  {"mark": {"type": "rule", "strokeDash": [6, 5], "strokeWidth": 1}, "encoding": {"y": {"field": "q3", "type": "quantitative", "title": "Basic Residues (%)", "scale": {"domain": [1.25, 34.6], "nice": false, "zero": false}, "axis": {"values": [5,10,15,20,25,30], "labelOverlap": false, "titlePadding": 15}}, "y2": {"field": "hi"}, "color": {"field": "g", "type": "nominal", "scale": {"domain": ["EN","VN","E2","V2","E4","V4","E6","V6","E8","V8"], "range": ["#2d2df0","#111111","#2d2df0","#111111","#2d2df0","#111111","#2d2df0","#111111","#2d2df0","#111111"]}, "legend": null}}},
  {"mark": {"type": "rule", "strokeDash": [6, 5], "strokeWidth": 1}, "encoding": {"y": {"field": "lo", "type": "quantitative", "title": "Basic Residues (%)", "axis": {"values": [5,10,15,20,25,30], "labelOverlap": false, "titlePadding": 15}}, "y2": {"field": "q1"}, "color": {"field": "g", "type": "nominal", "legend": null}}},
  {"mark": {"type": "tick", "size": 11, "thickness": 1, "opacity": 1}, "encoding": {"y": {"field": "hi", "type": "quantitative", "title": "Basic Residues (%)", "axis": {"values": [5,10,15,20,25,30], "labelOverlap": false, "titlePadding": 15}}, "color": {"field": "g", "type": "nominal", "legend": null}}},
  {"mark": {"type": "tick", "size": 11, "thickness": 1, "opacity": 1}, "encoding": {"y": {"field": "lo", "type": "quantitative", "title": "Basic Residues (%)", "axis": {"values": [5,10,15,20,25,30], "labelOverlap": false, "titlePadding": 15}}, "color": {"field": "g", "type": "nominal", "legend": null}}},
  {"mark": {"type": "bar", "width": {"band": 0.8}, "strokeWidth": 1}, "encoding": {"y": {"field": "q1", "type": "quantitative", "title": "Basic Residues (%)", "axis": {"values": [5,10,15,20,25,30], "labelOverlap": false, "titlePadding": 15}}, "y2": {"field": "q3"}, "fill": {"field": "g", "type": "nominal", "scale": {"domain": ["EN","VN","E2","V2","E4","V4","E6","V6","E8","V8"], "range": ["#ffdab9","#bebebe","#ffdab9","#bebebe","#ffdab9","#bebebe","#ffdab9","#bebebe","#ffdab9","#bebebe"]}, "legend": null}, "stroke": {"field": "g", "type": "nominal", "scale": {"domain": ["EN","VN","E2","V2","E4","V4","E6","V6","E8","V8"], "range": ["#2d2df0","#111111","#2d2df0","#111111","#2d2df0","#111111","#2d2df0","#111111","#2d2df0","#111111"]}, "legend": null}}},
  {"mark": {"type": "tick", "size": 22, "thickness": 3, "opacity": 1}, "encoding": {"y": {"field": "md", "type": "quantitative", "title": "Basic Residues (%)", "axis": {"values": [5,10,15,20,25,30], "labelOverlap": false, "titlePadding": 15}}, "color": {"field": "g", "type": "nominal", "legend": null}}},
  {"data": {"name": "oD"}, "mark": {"type": "point", "shape": "circle", "filled": false, "size": 26, "strokeWidth": 1.4, "opacity": 1, "clip": true}, "encoding": {"y": {"field": "v", "type": "quantitative", "title": "Basic Residues (%)", "axis": {"values": [5,10,15,20,25,30], "labelOverlap": false, "titlePadding": 15}}, "color": {"field": "g", "type": "nominal", "legend": null}}}
 ]
},
{
 "width": 287, "height": 181,
 "title": {"text": "E", "dx": -64},
 "data": {"name": "bE"},
 "encoding": {"x": {"field": "g", "type": "nominal", "title": null, "scale": {"domain": ["EN","VN","E2","V2","E4","V4","E6","V6","E8","V8"], "paddingInner": 0, "paddingOuter": 0.4}}},
 "layer": [
  {"mark": {"type": "rule", "strokeDash": [6, 5], "strokeWidth": 1}, "encoding": {"y": {"field": "q3", "type": "quantitative", "title": "Acidic Residues (%)", "scale": {"domain": [-1.6, 41.3], "nice": false, "zero": false}, "axis": {"values": [0,10,20,30,40], "labelOverlap": false, "titlePadding": 21}}, "y2": {"field": "hi"}, "color": {"field": "g", "type": "nominal", "scale": {"domain": ["EN","VN","E2","V2","E4","V4","E6","V6","E8","V8"], "range": ["#2d2df0","#111111","#2d2df0","#111111","#2d2df0","#111111","#2d2df0","#111111","#2d2df0","#111111"]}, "legend": null}}},
  {"mark": {"type": "rule", "strokeDash": [6, 5], "strokeWidth": 1}, "encoding": {"y": {"field": "lo", "type": "quantitative", "title": "Acidic Residues (%)", "axis": {"values": [0,10,20,30,40], "labelOverlap": false, "titlePadding": 21}}, "y2": {"field": "q1"}, "color": {"field": "g", "type": "nominal", "legend": null}}},
  {"mark": {"type": "tick", "size": 11, "thickness": 1, "opacity": 1}, "encoding": {"y": {"field": "hi", "type": "quantitative", "title": "Acidic Residues (%)", "axis": {"values": [0,10,20,30,40], "labelOverlap": false, "titlePadding": 21}}, "color": {"field": "g", "type": "nominal", "legend": null}}},
  {"mark": {"type": "tick", "size": 11, "thickness": 1, "opacity": 1}, "encoding": {"y": {"field": "lo", "type": "quantitative", "title": "Acidic Residues (%)", "axis": {"values": [0,10,20,30,40], "labelOverlap": false, "titlePadding": 21}}, "color": {"field": "g", "type": "nominal", "legend": null}}},
  {"mark": {"type": "bar", "width": {"band": 0.8}, "strokeWidth": 1}, "encoding": {"y": {"field": "q1", "type": "quantitative", "title": "Acidic Residues (%)", "axis": {"values": [0,10,20,30,40], "labelOverlap": false, "titlePadding": 21}}, "y2": {"field": "q3"}, "fill": {"field": "g", "type": "nominal", "scale": {"domain": ["EN","VN","E2","V2","E4","V4","E6","V6","E8","V8"], "range": ["#ffdab9","#bebebe","#ffdab9","#bebebe","#ffdab9","#bebebe","#ffdab9","#bebebe","#ffdab9","#bebebe"]}, "legend": null}, "stroke": {"field": "g", "type": "nominal", "scale": {"domain": ["EN","VN","E2","V2","E4","V4","E6","V6","E8","V8"], "range": ["#2d2df0","#111111","#2d2df0","#111111","#2d2df0","#111111","#2d2df0","#111111","#2d2df0","#111111"]}, "legend": null}}},
  {"mark": {"type": "tick", "size": 21, "thickness": 3, "opacity": 1}, "encoding": {"y": {"field": "md", "type": "quantitative", "title": "Acidic Residues (%)", "axis": {"values": [0,10,20,30,40], "labelOverlap": false, "titlePadding": 21}}, "color": {"field": "g", "type": "nominal", "legend": null}}},
  {"data": {"name": "oE"}, "mark": {"type": "point", "shape": "circle", "filled": false, "size": 26, "strokeWidth": 1.4, "opacity": 1, "clip": true}, "encoding": {"y": {"field": "v", "type": "quantitative", "title": "Acidic Residues (%)", "axis": {"values": [0,10,20,30,40], "labelOverlap": false, "titlePadding": 21}}, "color": {"field": "g", "type": "nominal", "legend": null}}}
 ]
}
]
}
